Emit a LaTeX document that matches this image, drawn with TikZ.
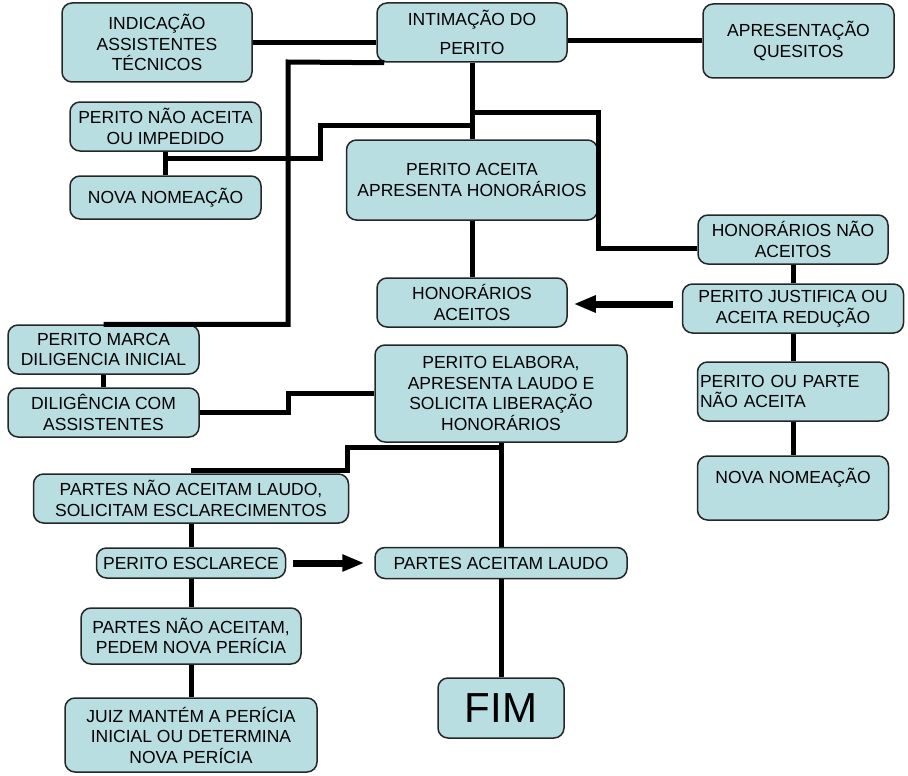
\documentclass[tikz,border=0pt]{standalone}
\usepackage{fontspec}
\setmainfont{Liberation Sans}
\usetikzlibrary{arrows.meta}
\definecolor{caixaazul}{RGB}{185,222,226}

\begin{document}
\begin{tikzpicture}[x=1pt,y=-1pt,
  caixa/.style={draw=black!85, line width=1.5pt, fill=caixaazul, rounded corners=10pt,
    align=center, inner sep=2pt, font=\fontsize{17.5}{20.5}\selectfont},
  liga/.style={line width=5pt},
  seta/.style={line width=7pt, -{Triangle[length=22pt,width=16pt]}}]
\useasboundingbox (0,0) rectangle (908,776);
\node[caixa, minimum width=190pt, minimum height=79pt] (indic) at (157,42.5) {INDICAÇÃO\\ASSISTENTES\\TÉCNICOS};
\node[caixa, minimum width=190pt, minimum height=59pt] (intim) at (472,32.5) {INTIMAÇÃO DO\\[9pt]PERITO};
\node[caixa, minimum width=191pt, minimum height=74pt] (quesit) at (798.5,41) {APRESENTAÇÃO\\QUESITOS};
\node[caixa, minimum width=191pt, minimum height=49pt] (naoaceita) at (165.5,126.5) {PERITO NÃO ACEITA\\OU IMPEDIDO};
\node[caixa, minimum width=191pt, minimum height=43pt] (novanom1) at (165.5,197.5) {NOVA NOMEAÇÃO};
\node[caixa, minimum width=251pt, minimum height=80pt] (aceita) at (472,180) {PERITO ACEITA\\APRESENTA HONORÁRIOS};
\node[caixa, minimum width=190pt, minimum height=49pt] (honoraceitos) at (472,302.5) {HONORÁRIOS\\ACEITOS};
\node[caixa, minimum width=190pt, minimum height=49pt] (honornao) at (793,239.5) {HONORÁRIOS NÃO\\ACEITOS};
\node[caixa, minimum width=221pt, minimum height=49pt] (justifica) at (793,308.5) {PERITO JUSTIFICA OU\\ACEITA REDUÇÃO};
\node[caixa, minimum width=191pt, minimum height=49pt] (marca) at (103.5,349.5) {PERITO MARCA\\DILIGENCIA INICIAL};
\node[caixa, minimum width=191pt, minimum height=49pt] (diligencia) at (103.5,412.5) {DILIGÊNCIA COM\\ASSISTENTES};
\node[caixa, minimum width=252pt, minimum height=97pt] (elabora) at (501,393.5) {PERITO ELABORA,\\APRESENTA LAUDO E\\SOLICITA LIBERAÇÃO\\HONORÁRIOS};
\node[caixa, minimum width=191pt, minimum height=59pt, text width=186pt, align=left] (parteoupe) at (793,391.5) {PERITO OU PARTE\\NÃO ACEITA};
\node[caixa, minimum width=191pt, minimum height=64pt, text depth=24pt] (novanom2) at (793,488) {NOVA NOMEAÇÃO};
\node[caixa, minimum width=315pt, minimum height=49pt] (naolaudo) at (191,498.5) {PARTES NÃO ACEITAM LAUDO,\\SOLICITAM ESCLARECIMENTOS};
\node[caixa, minimum width=189pt, minimum height=30pt] (esclarece) at (191,563) {PERITO ESCLARECE};
\node[caixa, minimum width=252pt, minimum height=31pt] (aceitamlaudo) at (501,563) {PARTES ACEITAM LAUDO};
\node[caixa, minimum width=220pt, minimum height=56pt] (pedem) at (191,636) {PARTES NÃO ACEITAM,\\PEDEM NOVA PERÍCIA};
\node[caixa, minimum width=252pt, minimum height=74pt] (juiz) at (191,735) {JUIZ MANTÉM A PERÍCIA\\INICIAL OU DETERMINA\\NOVA PERÍCIA};
\node[caixa, minimum width=126pt, minimum height=60pt, font=\fontsize{42}{48}\selectfont] (fim) at (501,708) {FIM};
\draw[liga] (indic.east) -- (indic.east -| intim.west);
\draw[liga] (intim.east |- quesit.west) -- (quesit.west);
\draw[liga] (intim.south) -- (aceita.north);
\draw[liga] (intim.south |- 0,112) -| (aceita.east |- 0,248) -- (honornao.west |- 0,248);
\draw[liga] (intim.south |- 0,125) -| (320,158) -- (naoaceita.south |- 0,158);
\draw[liga] (naoaceita.south) -- (novanom1.north);
\draw[liga] ([xshift=8pt]intim.south west) -- (288,62) |- (marca.north);
\draw[liga] (marca.south) -- (diligencia.north);
\draw[liga] (diligencia.east) -- (288,412.5) |- (elabora.west);
\draw[liga] (aceita.south) -- (honoraceitos.north);
\draw[liga] (honornao.south) -- (justifica.north);
\draw[liga] (justifica.south) -- (parteoupe.north);
\draw[liga] (parteoupe.south) -- (novanom2.north);
\draw[seta, shorten <=9pt, shorten >=6pt] (justifica.west |- 0,304) -- (honoraceitos.east |- 0,304);
\draw[liga] (elabora.south) -- (aceitamlaudo.north);
\draw[liga] (aceitamlaudo.south) -- (fim.north);
\draw[liga] (elabora.south |- 0,447) -| (347,470) -- (naolaudo.north |- 0,470);
\draw[liga] (naolaudo.south) -- (esclarece.north);
\draw[seta, shorten <=7pt, shorten >=10pt] (esclarece.east) -- (aceitamlaudo.west);
\draw[liga] (esclarece.south) -- (pedem.north);
\draw[liga] (pedem.south) -- (juiz.north);
\end{tikzpicture}
\end{document}
